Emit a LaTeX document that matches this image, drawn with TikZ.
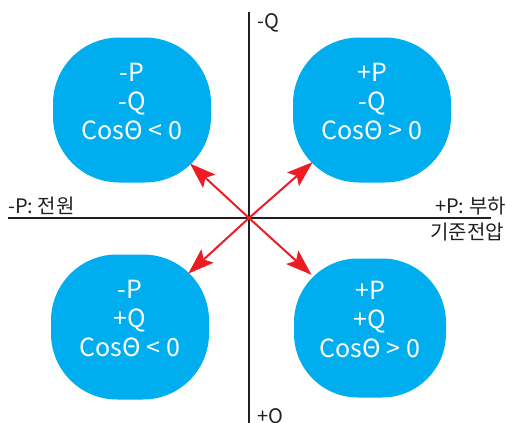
\documentclass[tikz,border=0pt]{standalone}
\usepackage{fontspec}
\setmainfont{Noto Sans CJK KR}
\usetikzlibrary{arrows.meta}
\definecolor{blobcyan}{RGB}{0,174,239}
\definecolor{arrowred}{RGB}{237,28,36}
\definecolor{axisgray}{RGB}{35,31,32}
\begin{document}
\begin{tikzpicture}[x=1pt,y=-1pt,
  blob/.style={fill=blobcyan,rounded corners=66pt,minimum width=158pt,minimum height=145pt,inner sep=0pt},
  blobtext/.style={text=white,align=center,inner sep=0pt,font=\fontsize{25}{29}\selectfont},
  axislabel/.style={text=axisgray,inner sep=0pt,font=\fontsize{20}{23}\selectfont},
  arr/.style={draw=arrowred,line width=2pt,-{Stealth[length=26pt,width=18pt,inset=5pt]},shorten >=79pt}]
\path[use as bounding box] (0,0) rectangle (507,423);
\coordinate (o) at (249,218);
\coordinate (qTop) at (249,12);
\coordinate (qBot) at (249,423);
\coordinate (pLeft) at (8,218);
\coordinate (pRight) at (491,218);
\draw[axisgray,line width=1.3pt] (qTop) -- (qBot);
\draw[axisgray,line width=1.3pt] (pLeft) -- (pRight);
\node[blob] (tl) at (132,110) {};
\node[blob] (tr) at (372,110) {};
\node[blob] (bl) at (130,327) {};
\node[blob,minimum width=152pt,minimum height=139pt,rounded corners=64pt] (br) at (370,328) {};
\node[blobtext] (tlText) at ([yshift=9pt]tl.center) {-P\\-Q\\CosΘ < 0};
\node[blobtext] (trText) at ([yshift=9pt]tr.center) {+P\\-Q\\CosΘ > 0};
\node[blobtext] (blText) at ([yshift=9pt]bl.center) {-P\\+Q\\CosΘ < 0};
\node[blobtext] (brText) at ([yshift=9pt]br.center) {+P\\+Q\\CosΘ > 0};
\draw[arr] (o) -- (tl.center);
\draw[arr] (o) -- (tr.center);
\draw[arr] (o) -- (bl.center);
\draw[arr] (o) -- (br.center);
\node[axislabel,anchor=west] (qMinus) at (257,23) {-Q};
\node[axislabel,anchor=north west] (qPlus) at (257,408) {+Q};
\node[axislabel,anchor=base west] (pMinus) at (8,213) {-P: 전원};
\node[axislabel,anchor=base east] (pPlus) at (506,213) {+P: 부하};
\node[axislabel,anchor=east] (refVolt) at (504,232) {기준전압};
\end{tikzpicture}
\end{document}
